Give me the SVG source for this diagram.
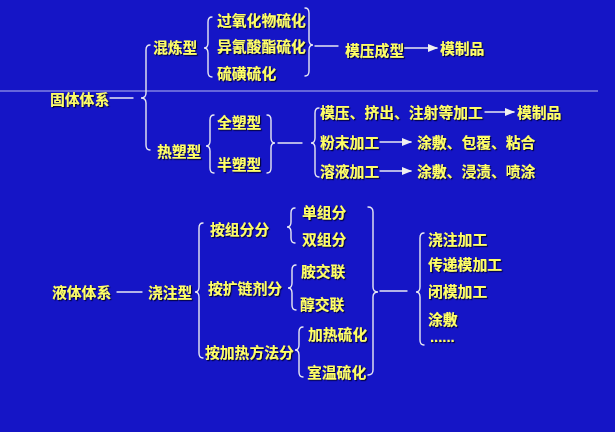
<svg xmlns="http://www.w3.org/2000/svg" width="615" height="432" viewBox="0 0 615 432">
<defs>
<filter id="sh" x="-10%" y="-30%" width="130%" height="160%">
<feDropShadow dx="1.2" dy="1.2" stdDeviation="0.4" flood-color="#000030" flood-opacity="0.9"/>
</filter>
<marker id="ah" markerWidth="10" markerHeight="8" refX="9" refY="4" orient="auto" markerUnits="userSpaceOnUse">
<path d="M0,0 L10,4 L0,8 Z" fill="#F0F0F0"/>
</marker>
</defs>
<style>
text{font-family:"Noto Sans CJK SC","Liberation Sans",sans-serif;font-size:14.8px;font-weight:bold;fill:#FFFF66;filter:url(#sh)}
.c path,.c line{fill:none;stroke:#E8E8F2;stroke-width:1.4;stroke-linecap:round}
.c .a{marker-end:url(#ah)}
.sep{stroke:#B8B8F0;stroke-width:1}
</style>
<rect width="615" height="432" fill="#1515C6"/>
<line class="sep" x1="0" y1="91" x2="598" y2="91"/>
<g class="c" id="connectors">
<line x1="110" y1="98" x2="133" y2="98"/>
<path d="M150,45 Q146,45 146,50 L146,93 Q146,98 141,98 Q146,98 146,103 L146,145 Q146,150 150,150"/>
<path d="M212,17 Q208,17 208,22 L208,43 Q208,48 204,48 Q208,48 208,53 L208,72 Q208,77 212,77"/>
<path d="M305,8 Q309,8 309,13 L309,40 Q309,45 313,45 Q309,45 309,50 L309,71 Q309,76 305,76"/>
<line x1="315" y1="46" x2="338" y2="46"/>
<line class="a" x1="404" y1="48" x2="437" y2="48"/>
<path d="M214,115 Q210,115 210,120 L210,141 Q210,146 206,146 Q210,146 210,151 L210,168 Q210,173 214,173"/>
<path d="M267,115 Q271,115 271,120 L271,138 Q271,143 275,143 Q271,143 271,148 L271,168 Q271,173 267,173"/>
<line x1="278" y1="143" x2="302" y2="143"/>
<path d="M319,108 Q315,108 315,113 L315,138 Q315,143 311,143 Q315,143 315,148 L315,172 Q315,177 319,177"/>
<line class="a" x1="485" y1="112" x2="514" y2="112"/>
<line class="a" x1="380" y1="142" x2="411" y2="142"/>
<line class="a" x1="380" y1="171" x2="411" y2="171"/>
<line x1="117" y1="292" x2="142" y2="292"/>
<path d="M203,223 Q199,223 199,228 L199,287 Q199,292 195,292 Q199,292 199,297 L199,353 Q199,358 203,358"/>
<path d="M295,208 Q291,208 291,213 L291,222 Q291,227 287,227 Q291,227 291,232 L291,238 Q291,243 295,243"/>
<path d="M296,265 Q292,265 292,270 L292,283 Q292,288 288,288 Q292,288 292,293 L292,305 Q292,310 296,310"/>
<path d="M303,327 Q299,327 299,332 L299,345 Q299,350 295,350 Q299,350 299,355 L299,372 Q299,377 303,377"/>
<path d="M368,207 Q373,207 373,212 L373,287 Q373,292 378,292 Q373,292 373,297 L373,370 Q373,375 368,375"/>
<line x1="380" y1="291" x2="407" y2="291"/>
<path d="M424,233 Q420,233 420,238 L420,287 Q420,292 416,292 Q420,292 420,297 L420,340 Q420,345 424,345"/>
</g>
<g id="n-guti"><text x="50" y="105">固体体系</text></g>
<g id="n-hunlian"><text x="153" y="53">混炼型</text></g>
<g id="n-guoyang"><text x="217" y="26">过氧化物硫化</text></g>
<g id="n-yiqing"><text x="217" y="52">异氰酸酯硫化</text></g>
<g id="n-liuhuang"><text x="217" y="79">硫磺硫化</text></g>
<g id="n-moya"><text x="345" y="56">模压成型</text></g>
<g id="n-mozhi1"><text x="440" y="54">模制品</text></g>
<g id="n-resu"><text x="157" y="157">热塑型</text></g>
<g id="n-quansu"><text x="217" y="128">全塑型</text></g>
<g id="n-bansu"><text x="217" y="170">半塑型</text></g>
<g id="n-moyajc"><text x="320" y="118">模压、挤出、注射等加工</text></g>
<g id="n-mozhi2"><text x="517" y="118">模制品</text></g>
<g id="n-fenmo"><text x="320" y="148">粉末加工</text></g>
<g id="n-tufu1"><text x="417" y="148">涂敷、包覆、粘合</text></g>
<g id="n-rongye"><text x="320" y="177">溶液加工</text></g>
<g id="n-tufu2"><text x="417" y="177">涂敷、浸渍、喷涂</text></g>
<g id="n-yeti"><text x="52" y="298">液体体系</text></g>
<g id="n-jiaozhu"><text x="148" y="298">浇注型</text></g>
<g id="n-anzu"><text x="210" y="235">按组分分</text></g>
<g id="n-ankuo"><text x="208" y="294">按扩链剂分</text></g>
<g id="n-anjia"><text x="205" y="358">按加热方法分</text></g>
<g id="n-dan"><text x="302" y="218">单组分</text></g>
<g id="n-shuang"><text x="302" y="245">双组分</text></g>
<g id="n-an"><text x="301" y="277">胺交联</text></g>
<g id="n-chun"><text x="300" y="310">醇交联</text></g>
<g id="n-jiare"><text x="308" y="340">加热硫化</text></g>
<g id="n-shiwen"><text x="307" y="378">室温硫化</text></g>
<g id="n-jzjg"><text x="428" y="245">浇注加工</text></g>
<g id="n-chuandi"><text x="428" y="270">传递模加工</text></g>
<g id="n-bimo"><text x="428" y="297">闭模加工</text></g>
<g id="n-tufu3"><text x="428" y="325">涂敷</text></g>
<g id="n-dots"><text x="430" y="342" style="font-family:'Liberation Sans',sans-serif">......</text></g>
</svg>
